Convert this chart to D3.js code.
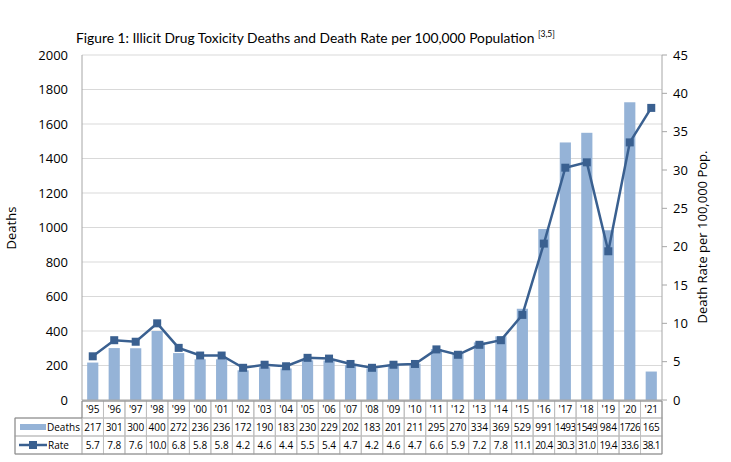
<!DOCTYPE html>
<html>
<head>
<meta charset="utf-8">
<script src="https://cdn.jsdelivr.net/npm/d3@7"></script>
<style>
  body { margin: 0; background: #fff; }
  text { font-family: "Open Sans", "Noto Sans", sans-serif; fill: #000; }
  .narrow { font-family: Lato, "Open Sans", sans-serif; }
</style>
</head>
<body>
<div id="chart"></div>
<script>
const years = ["'95","'96","'97","'98","'99","'00","'01","'02","'03","'04","'05","'06","'07","'08","'09","'10","'11","'12","'13","'14","'15","'16","'17","'18","'19","'20","'21"];
const deaths = [217,301,300,400,272,236,236,172,190,183,230,229,202,183,201,211,295,270,334,369,529,991,1493,1549,984,1726,165];
const rate = [5.7,7.8,7.6,10.0,6.8,5.8,5.8,4.2,4.6,4.4,5.5,5.4,4.7,4.2,4.6,4.7,6.6,5.9,7.2,7.8,11.1,20.4,30.3,31.0,19.4,33.6,38.1];
const leftTicks = [0,200,400,600,800,1000,1200,1400,1600,1800,2000];
const rightTicks = [0,5,10,15,20,25,30,35,40,45];

const W = 731, H = 462;
const plotL = 82, plotR = 662, plotT = 55, plotB = 400;
const barColor = "#95b3d7", lineColor = "#3a6090", gridColor = "#d9d9d9", axisColor = "#a6a6a6";

const svg = d3.select("#chart").append("svg")
    .attr("width", W)
    .attr("height", H);

const x = d3.scaleBand().domain(years).range([plotL, plotR]).paddingInner(0.48).paddingOuter(0.24);
const xc = d3.scaleBand().domain(years).range([plotL, plotR]);
const yL = d3.scaleLinear().domain([0, 2000]).range([plotB, plotT]);
const yR = d3.scaleLinear().domain([0, 45]).range([plotB, plotT]);

// gridlines
svg.append("g")
    .selectAll("line")
    .data(leftTicks.slice(1))
    .join("line")
    .attr("x1", plotL).attr("x2", plotR)
    .attr("y1", d => yL(d)).attr("y2", d => yL(d))
    .attr("stroke", gridColor);

// bars
svg.append("g")
    .selectAll("rect")
    .data(deaths)
    .join("rect")
    .attr("x", (d, i) => x(years[i]))
    .attr("width", x.bandwidth())
    .attr("y", d => yL(d))
    .attr("height", d => plotB - yL(d))
    .attr("fill", barColor);

// axes lines
svg.append("line").attr("x1", plotL).attr("x2", plotL).attr("y1", plotT).attr("y2", plotB).attr("stroke", axisColor);
svg.append("line").attr("x1", plotR).attr("x2", plotR).attr("y1", plotT).attr("y2", plotB).attr("stroke", axisColor);
svg.append("line").attr("x1", plotL).attr("x2", plotR).attr("y1", plotB).attr("y2", plotB).attr("stroke", axisColor);

// left tick labels
svg.append("g")
    .selectAll("text")
    .data(leftTicks)
    .join("text")
    .attr("x", 68)
    .attr("y", d => yL(d))
    .attr("dy", "0.35em")
    .attr("text-anchor", "end")
    .attr("font-size", 13)
    .text(d => d);

// right ticks
const rg = svg.append("g");
rg.selectAll("line")
    .data(rightTicks)
    .join("line")
    .attr("x1", plotR).attr("x2", plotR + 5)
    .attr("y1", d => yR(d)).attr("y2", d => yR(d))
    .attr("stroke", axisColor);
rg.selectAll("text")
    .data(rightTicks)
    .join("text")
    .attr("x", 673)
    .attr("y", d => yR(d))
    .attr("dy", "0.35em")
    .attr("font-size", 13)
    .text(d => d);

// rate line
const line = d3.line()
    .x((d, i) => xc(years[i]) + xc.bandwidth() / 2)
    .y(d => yR(d));
svg.append("path")
    .datum(rate)
    .attr("d", line)
    .attr("fill", "none")
    .attr("stroke", lineColor)
    .attr("stroke-width", 2.5);
svg.append("g")
    .selectAll("rect")
    .data(rate)
    .join("rect")
    .attr("x", (d, i) => xc(years[i]) + xc.bandwidth() / 2 - 4)
    .attr("y", d => yR(d) - 4)
    .attr("width", 8).attr("height", 8)
    .attr("fill", lineColor);

// axis titles
svg.append("text")
    .attr("transform", "translate(16,228) rotate(-90)")
    .attr("text-anchor", "middle")
    .attr("font-size", 13)
    .text("Deaths");
svg.append("text")
    .attr("transform", "translate(707,237) rotate(-90)")
    .attr("text-anchor", "middle")
    .attr("font-size", 13)
    .text("Death Rate per 100,000 Pop.");

// title
const title = svg.append("text")
    .attr("class", "narrow")
    .attr("x", 76)
    .attr("y", 43)
    .attr("font-size", 13.8)
    .text("Figure 1: Illicit Drug Toxicity Deaths and Death Rate per 100,000 Population ");
title.append("tspan")
    .attr("font-size", 8.5)
    .attr("dy", -6)
    .text("[3,5]");

// data table
const rowY = [401, 418, 436, 454];
const tableLeft = 15;
const tg = svg.append("g").attr("font-size", 10);
const cellBorder = "#bfbfbf";

years.forEach((yr, i) => {
    const cx = xc(yr);
    for (let r = 0; r < 3; r++) {
        tg.append("rect")
            .attr("x", cx).attr("y", rowY[r])
            .attr("width", xc.bandwidth()).attr("height", rowY[r + 1] - rowY[r])
            .attr("fill", "none").attr("stroke", cellBorder);
    }
    const vals = [yr, deaths[i], rate[i].toFixed(1)];
    vals.forEach((v, r) => {
        tg.append("text")
            .attr("x", cx + xc.bandwidth() / 2)
            .attr("y", (rowY[r] + rowY[r + 1]) / 2)
            .attr("dy", "0.35em")
            .attr("text-anchor", "middle")
            .attr("letter-spacing", String(v).length > 3 ? -0.6 : 0)
            .text(v);
    });
});
for (let r = 1; r < 3; r++) {
    tg.append("rect")
        .attr("x", tableLeft).attr("y", rowY[r])
        .attr("width", plotL - tableLeft).attr("height", rowY[r + 1] - rowY[r])
        .attr("fill", "none").attr("stroke", cellBorder);
}
// outer border
tg.append("path")
    .attr("d", `M${tableLeft},${rowY[1]} H${plotL} V${rowY[0]} H${plotR} V${rowY[3]} H${tableLeft} Z`)
    .attr("fill", "none").attr("stroke", "#8c8c8c");

// legend keys
tg.append("rect").attr("x", 20).attr("y", rowY[1] + 6).attr("width", 26).attr("height", 6).attr("fill", barColor);
tg.append("text").attr("x", 47).attr("y", (rowY[1] + rowY[2]) / 2).attr("dy", "0.35em").text("Deaths");
tg.append("line").attr("x1", 19).attr("x2", 47).attr("y1", (rowY[2] + rowY[3]) / 2).attr("y2", (rowY[2] + rowY[3]) / 2)
    .attr("stroke", lineColor).attr("stroke-width", 2.5);
tg.append("rect").attr("x", 29).attr("y", (rowY[2] + rowY[3]) / 2 - 4).attr("width", 8).attr("height", 8).attr("fill", lineColor);
tg.append("text").attr("x", 48).attr("y", (rowY[2] + rowY[3]) / 2).attr("dy", "0.35em").text("Rate");
</script>
</body>
</html>
